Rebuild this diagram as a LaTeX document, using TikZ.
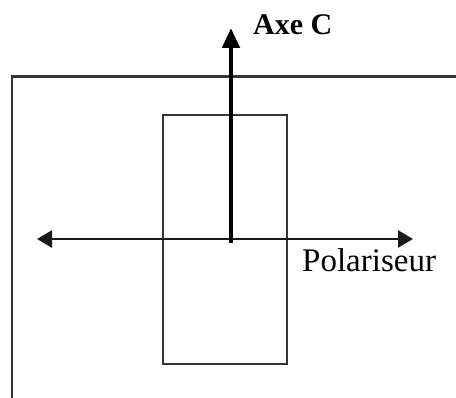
\documentclass[tikz,border=0pt]{standalone}
\usepackage{fontspec}
\setmainfont{Liberation Serif}
\usetikzlibrary{arrows.meta}
\definecolor{framegray}{HTML}{3A3333}
\tikzset{
  frameline/.style={draw=framegray, line width=2.6pt},
  crystalbox/.style={draw=framegray, line width=2.5pt, minimum width=124pt, minimum height=249pt, inner sep=0pt},
  polaxis/.style={draw=black!90, line width=2.7pt, {Triangle[length=15pt,width=17pt]}-{Triangle[length=15pt,width=17pt]}},
  caxis/.style={draw=black, line width=4.8pt, -{Triangle[length=20pt,width=17pt]}},
  lab/.style={inner sep=0pt, anchor=base west}
}
\begin{document}
\begin{tikzpicture}[x=1pt,y=-1pt]
\useasboundingbox (0,0) rectangle (456,398);
% frame
\coordinate (fbl) at (12,400);
\coordinate (ftl) at (12,76.5);
\coordinate (ftr) at (458,76.5);
\draw[frameline] (fbl) -- (ftl) -- (ftr);
% crystal rectangle
\node[crystalbox] (crystal) at (225,239.5) {};
% polariser axis
\coordinate (pl) at (37,239);
\coordinate (pr) at (413,239);
\draw[polaxis] (pl) -- (pr);
% C axis
\coordinate (cb) at (231,243);
\coordinate (ct) at (231,28);
\draw[caxis] (cb) -- (ct);
% labels
\node[lab, font=\fontsize{30}{34}\selectfont\bfseries] (axec) at (253,35) {Axe C};
\node[lab, font=\fontsize{33}{38}\selectfont] (pol) at (302,272) {Polariseur};
\end{tikzpicture}
\end{document}
